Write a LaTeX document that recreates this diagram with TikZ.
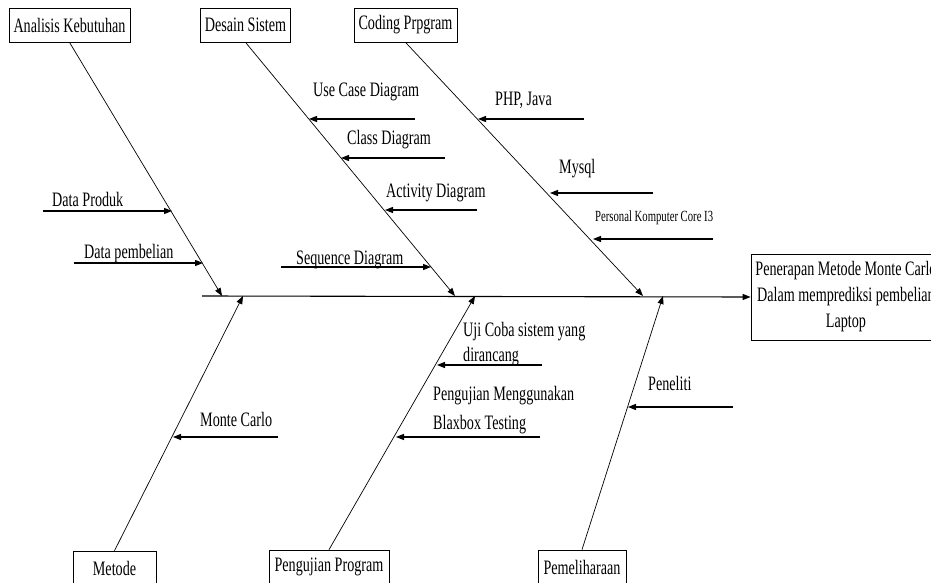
\documentclass[tikz,border=0pt]{standalone}
\usepackage{fontspec}
\setmainfont{Liberation Serif}[FakeStretch=0.69]
\usetikzlibrary{arrows.meta, positioning}
\tikzset{
  box/.style={
    rectangle, draw=black, line width=0.7pt, inner xsep=4.5pt,
    minimum height=34pt, text centered, font=\fontsize{20.5}{24}\selectfont
  },
  bone/.style={
    line width=0.7pt, -{Triangle[length=8pt, width=6pt]}
  },
  cause/.style={
    line width=1.1pt, -{Triangle[length=8pt, width=6pt]}
  },
  lbl/.style={
    inner sep=0pt, font=\fontsize{20.5}{24}\selectfont
  }
}
\begin{document}
\begin{tikzpicture}[x=1pt, y=-1pt]
\useasboundingbox (0,0) rectangle (931,583);

% kategori atas dan bawah
\node[box] (kebutuhan) at (69.5,25) {Analisis Kebutuhan};
\node[box] (desain) at (245.5,25) {Desain Sistem};
\node[box] (coding) at (405.5,25) {Coding Prpgram};
\node[box, minimum width=83pt] (metode) at (114.5,568) {Metode};
\node[box, minimum width=120pt] (pengujian) at (329,567) {Pengujian Program};
\node[box, minimum width=88pt] (pemeliharaan) at (582,567) {Pemeliharaan};
\node[box, minimum width=190pt, minimum height=86pt, align=center,
  font=\fontsize{20.5}{26}\selectfont] (tujuan) at (846,297)
  {Penerapan Metode Monte Carlo\\Dalam memprediksi pembelian\\Laptop};

% tulang utama
\coordinate (ekor) at (202,296);
\draw[cause] (ekor) -- (tujuan.west);

\coordinate (kebutuhanT) at (222,296);
\coordinate (desainT) at (455,296);
\coordinate (codingT) at (643,296);
\coordinate (metodeT) at (243,296);
\coordinate (pengujianT) at (475,296);
\coordinate (pemeliharaanT) at (663,296);
\draw[bone] (kebutuhan.south) -- (kebutuhanT);
\draw[bone] (desain.south) -- (desainT);
\draw[bone] (coding.south) -- (codingT);
\draw[bone] (metode.north) -- (metodeT);
\draw[bone] (pengujian.north) -- (pengujianT);
\draw[bone] (pemeliharaan.north) -- (pemeliharaanT);

% sebab
\coordinate (produkA) at (43,211); \coordinate (produkB) at (172,211);
\coordinate (pembelianA) at (74,263); \coordinate (pembelianB) at (203,263);
\coordinate (usecaseA) at (415,119); \coordinate (usecaseB) at (309,119);
\coordinate (classA) at (445,158); \coordinate (classB) at (341,158);
\coordinate (activityA) at (477,210); \coordinate (activityB) at (385,210);
\coordinate (sequenceA) at (281,267); \coordinate (sequenceB) at (431,267);
\coordinate (phpA) at (584,119); \coordinate (phpB) at (478,119);
\coordinate (mysqlA) at (653,193); \coordinate (mysqlB) at (550,193);
\coordinate (pcA) at (713,239); \coordinate (pcB) at (593,239);
\coordinate (ujiA) at (542,365); \coordinate (ujiB) at (437,365);
\coordinate (blackboxA) at (540,437); \coordinate (blackboxB) at (396,437);
\coordinate (monteA) at (278,437); \coordinate (monteB) at (173,437);
\coordinate (penelitiA) at (733,407); \coordinate (penelitiB) at (628,407);

\draw[cause] (produkA) -- (produkB);
\draw[cause] (pembelianA) -- (pembelianB);
\draw[cause] (usecaseA) -- (usecaseB);
\draw[cause] (classA) -- (classB);
\draw[cause] (activityA) -- (activityB);
\draw[cause] (sequenceA) -- (sequenceB);
\draw[cause] (phpA) -- (phpB);
\draw[cause] (mysqlA) -- (mysqlB);
\draw[cause] (pcA) -- (pcB);
\draw[cause] (ujiA) -- (ujiB);
\draw[cause] (blackboxA) -- (blackboxB);
\draw[cause] (monteA) -- (monteB);
\draw[cause] (penelitiA) -- (penelitiB);

% label
\node[lbl, anchor=base west] (lproduk) at (52,206) {Data Produk};
\node[lbl, anchor=base west] (lpembelian) at (84,258) {Data pembelian};
\node[lbl, anchor=base west] (lusecase) at (313,97) {Use Case Diagram};
\node[lbl, anchor=base west] (lclass) at (347,145) {Class Diagram};
\node[lbl, anchor=base west] (lactivity) at (386,197) {Activity Diagram};
\node[lbl, anchor=base west] (lsequence) at (296,264) {Sequence Diagram};
\node[lbl, anchor=base west] (lphp) at (495,106) {PHP, Java};
\node[lbl, anchor=base west] (lmysql) at (559,173) {Mysql};
\node[lbl, anchor=base west, font=\fontsize{15.5}{18}\selectfont] (lpc) at (595,221) {Personal Komputer Core I3};
\node[lbl, anchor=north west, align=left] (luji) at (463,322) {Uji Coba sistem yang\\[1pt]dirancang};
\node[lbl, anchor=north west, align=left] (lblackbox) at (433,386) {Pengujian Menggunakan\\[5pt]Blaxbox Testing};
\node[lbl, anchor=base west] (lmonte) at (200,426) {Monte Carlo};
\node[lbl, anchor=base west] (lpeneliti) at (648,390) {Peneliti};
\end{tikzpicture}
\end{document}
